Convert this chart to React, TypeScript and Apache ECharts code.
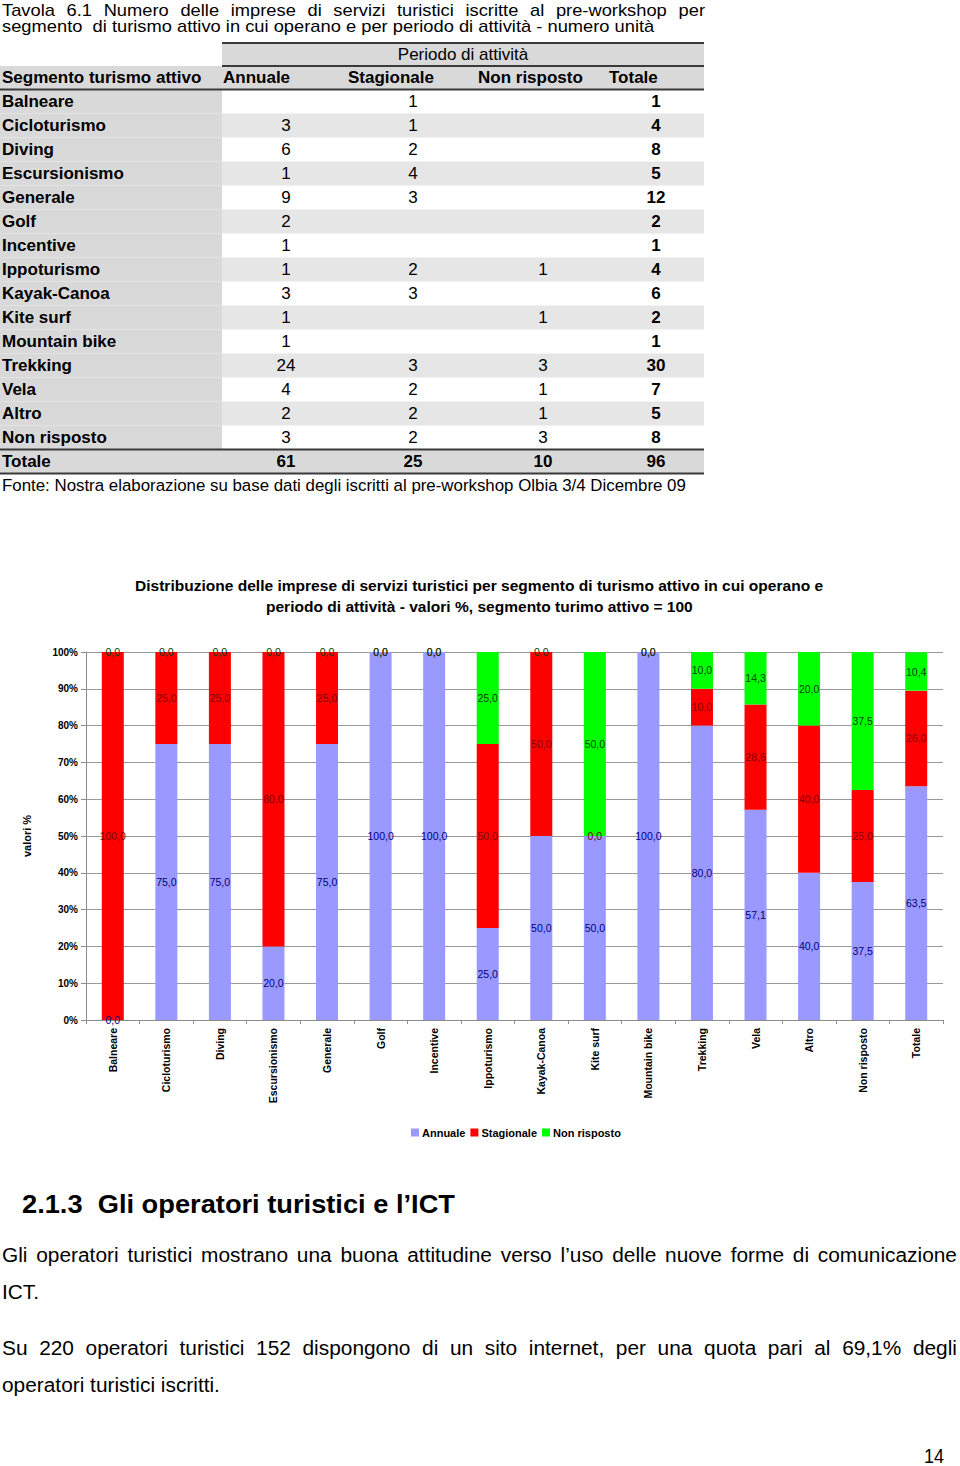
import React, { useEffect, useRef } from "react";
import * as echarts from "echarts";

// ---------- DATA ----------
const SEGMENTS = [
  "Balneare", "Cicloturismo", "Diving", "Escursionismo", "Generale", "Golf", "Incentive",
  "Ippoturismo", "Kayak-Canoa", "Kite surf", "Mountain bike", "Trekking", "Vela", "Altro", "Non risposto",
];
const COUNT_ANNUALE = [null, 3, 6, 1, 9, 2, 1, 1, 3, 1, 1, 24, 4, 2, 3];
const COUNT_STAGIONALE = [1, 1, 2, 4, 3, null, null, 2, 3, null, null, 3, 2, 2, 2];
const COUNT_NON_RISPOSTO = [null, null, null, null, null, null, null, 1, null, 1, null, 3, 1, 1, 3];
const COUNT_TOTALE = [1, 4, 8, 5, 12, 2, 1, 4, 6, 2, 1, 30, 7, 5, 8];
const TOTALS_ROW = ["Totale", 61, 25, 10, 96];
const TABLE_HEADERS = ["Segmento turismo attivo", "Annuale", "Stagionale", "Non risposto", "Totale"];
const TABLE_GROUP_HEADER = "Periodo di attività";

const CATEGORIES = [...SEGMENTS, "Totale"];
const SERIES_NAMES = ["Annuale", "Stagionale", "Non risposto"];
const PCT_ANNUALE = [0, 75, 75, 20, 75, 100, 100, 25, 50, 50, 100, 80, 57.1, 40, 37.5, 63.5];
const PCT_STAGIONALE = [100, 25, 25, 80, 25, 0, 0, 50, 50, 0, 0, 10, 28.6, 40, 25, 26.0];
const PCT_NON_RISPOSTO = [0, 0, 0, 0, 0, 0, 0, 25, 0, 50, 0, 10, 14.3, 20, 37.5, 10.4];

const TITLE_LINE_1 = "Tavola 6.1 Numero delle imprese di servizi turistici iscritte al pre-workshop per";
const TITLE_LINE_2 = "segmento  di turismo attivo in cui operano e per periodo di attività - numero unità";
const SOURCE = "Fonte: Nostra elaborazione su base dati degli iscritti al pre-workshop Olbia 3/4 Dicembre 09";
const CHART_TITLE = [
  "Distribuzione delle imprese di servizi turistici per segmento di turismo attivo in cui operano e",
  "periodo di attività - valori %, segmento turimo attivo = 100",
];
const Y_NAME = "valori %";
const HEADING = "2.1.3  Gli operatori turistici e l’ICT";
const PARA1 = ["Gli operatori turistici mostrano una buona attitudine verso l’uso delle nuove forme di comunicazione", "ICT."];
const PARA2 = ["Su 220 operatori turistici 152 dispongono di un sito internet, per una quota pari al 69,1% degli", "operatori turistici iscritti."];
const PAGE_NUMBER = "14";

// ---------- STYLE ----------
const FONT = '"Liberation Sans", Arial, Helvetica, sans-serif';
const COLORS = ["#9999FF", "#FF0000", "#00FF00"];
const LABEL_COLORS = ["#000080", "#800000", "#004000"];
const GREY_HEAD = "#d9d9d9";
const GREY_ALT = "#e6e6e6";
const LINE_DARK = "#3a3a3a";

let _ctx: CanvasRenderingContext2D | null = null;
function textWidth(t: string, size: number, weight: string) {
  if (!_ctx) _ctx = document.createElement("canvas").getContext("2d");
  _ctx!.font = `${weight} ${size}px ${FONT}`;
  return _ctx!.measureText(t).width;
}

function txt(text: string, x: number, y: number, size: number, weight: string, align = "left", fill = "#000", scaleX = 1) {
  return {
    type: "text",
    x,
    y,
    scaleX,
    silent: true,
    style: {
      text,
      fill,
      fontSize: size,
      fontWeight: weight,
      fontFamily: FONT,
      textAlign: align,
      align,
      textVerticalAlign: "middle",
      verticalAlign: "middle",
    },
  };
}

function fitScale(text: string, w: number, size: number, weight: string) {
  return w / textWidth(text, size, weight);
}

function fitText(text: string, x: number, y: number, w: number, size: number, weight: string, fill = "#000") {
  return txt(text, x, y, size, weight, "left", fill, fitScale(text, w, size, weight));
}

function justify(text: string, x: number, y: number, w: number, size: number, weight: string, s: number) {
  const words = text.split(/\s+/).filter((v) => v.length);
  const ws = words.map((wd) => textWidth(wd, size, weight) * s);
  const total = ws.reduce((a, b) => a + b, 0);
  const gap = (w - total) / (words.length - 1);
  let cx = x;
  return words.map((wd, i) => {
    const el = txt(wd, cx, y, size, weight, "left", "#000", s);
    cx += ws[i] + gap;
    return el;
  });
}

function buildGraphics() {
  const els: any[] = [];
  // page title (justified first line)
  const s2 = fitScale(TITLE_LINE_2, 653, 16, "normal");
  els.push(...justify(TITLE_LINE_1, 2, 10, 703, 16, "normal", s2));
  els.push(txt(TITLE_LINE_2, 2, 26.5, 16, "normal", "left", "#000", s2));

  // table backgrounds
  const rowTop = 89.5;
  const rowH = 24;
  const colX = [2, 223, 348, 478, 609];
  const valX = [286, 413, 543, 656];
  els.push({ type: "rect", silent: true, shape: { x: 222, y: 43, width: 482, height: 23 }, style: { fill: GREY_HEAD } });
  els.push({ type: "rect", silent: true, shape: { x: 0, y: 66, width: 704, height: 23.5 }, style: { fill: GREY_HEAD } });
  SEGMENTS.forEach((_, i) => {
    const y = rowTop + i * rowH;
    els.push({ type: "rect", silent: true, shape: { x: 0, y, width: 222, height: rowH }, style: { fill: GREY_HEAD } });
    if (i % 2 === 1)
      els.push({ type: "rect", silent: true, shape: { x: 222, y, width: 482, height: rowH }, style: { fill: GREY_ALT } });
  });
  const totY = rowTop + SEGMENTS.length * rowH;
  els.push({ type: "rect", silent: true, shape: { x: 0, y: totY, width: 704, height: rowH }, style: { fill: GREY_HEAD } });

  // table lines
  const hline = (x1: number, x2: number, y: number) => ({
    type: "line",
    silent: true,
    shape: { x1, y1: y, x2, y2: y },
    style: { stroke: LINE_DARK, lineWidth: 2 },
  });
  els.push(hline(222, 704, 43), hline(222, 704, 66), hline(0, 704, 89.5), hline(0, 704, totY), hline(0, 704, totY + rowH));

  // table texts
  els.push(txt(TABLE_GROUP_HEADER, 463, 54.5, 17, "normal", "center"));
  TABLE_HEADERS.forEach((h, j) => els.push(txt(h, colX[j], 77.5, 17, "bold")));
  SEGMENTS.forEach((seg, i) => {
    const y = rowTop + i * rowH + rowH / 2;
    els.push(txt(seg, 2, y, 17, "bold"));
    const vals = [COUNT_ANNUALE[i], COUNT_STAGIONALE[i], COUNT_NON_RISPOSTO[i], COUNT_TOTALE[i]];
    vals.forEach((v, j) => {
      if (v !== null && v !== undefined) els.push(txt(String(v), valX[j], y, 17, j === 3 ? "bold" : "normal", "center"));
    });
  });
  const ty = totY + rowH / 2;
  els.push(txt(String(TOTALS_ROW[0]), 2, ty, 17, "bold"));
  TOTALS_ROW.slice(1).forEach((v, j) => els.push(txt(String(v), valX[j], ty, 17, "bold", "center")));
  els.push(fitText(SOURCE, 2, totY + rowH + 12, 684, 17, "normal"));

  // chart title
  els.push(fitText(CHART_TITLE[0], 135, 586, 689, 14, "bold"));
  els.push(fitText(CHART_TITLE[1], 266, 607, 427, 14, "bold"));

  // text below
  els.push(fitText(HEADING, 22, 1204, 433, 26, "bold"));
  const sN = fitScale(PARA2[1], 218, 21, "normal");
  els.push(...justify(PARA1[0], 2, 1254, 955, 21, "normal", sN));
  els.push(txt(PARA1[1], 2, 1291, 21, "normal", "left", "#000", sN));
  els.push(...justify(PARA2[0], 2, 1347, 955, 21, "normal", sN));
  els.push(txt(PARA2[1], 2, 1384, 21, "normal", "left", "#000", sN));
  els.push(fitText(PAGE_NUMBER, 924, 1455, 20, 21, "normal"));
  return els;
}

function fmt(v: number) {
  return v.toFixed(1).replace(".", ",");
}

export default function App() {
  const ref = useRef<HTMLDivElement>(null);
  useEffect(() => {
    document.body.style.margin = "0";
    if (!ref.current) return;
    const chart = echarts.init(ref.current, null, { renderer: "svg" });
    const pcts = [PCT_ANNUALE, PCT_STAGIONALE, PCT_NON_RISPOSTO];
    chart.setOption({
      animation: false,
      backgroundColor: "#ffffff",
      textStyle: { fontFamily: FONT },
      grid: { left: 86, right: 17, top: 652, bottom: 446, containLabel: false },
      legend: {
        data: SERIES_NAMES,
        left: 411,
        top: 1127,
        padding: 0,
        itemWidth: 8,
        itemHeight: 8,
        itemGap: 5,
        icon: "rect",
        textStyle: { fontFamily: FONT, fontWeight: "bold", fontSize: 11, color: "#000", padding: [0, 0, 0, -2] },
      },
      xAxis: {
        type: "category",
        data: CATEGORIES,
        axisLine: { lineStyle: { color: "#8c8c8c", width: 1 } },
        axisTick: { show: true, length: 4, lineStyle: { color: "#8c8c8c" } },
        axisLabel: { rotate: 90, margin: 8, fontFamily: FONT, fontWeight: "bold", fontSize: 10.5, color: "#000", interval: 0 },
      },
      yAxis: {
        type: "value",
        min: 0,
        max: 100,
        interval: 10,
        name: Y_NAME,
        nameLocation: "middle",
        nameRotate: 90,
        nameGap: 54,
        nameTextStyle: { fontFamily: FONT, fontWeight: "bold", fontSize: 11, color: "#000" },
        axisLine: { show: true, lineStyle: { color: "#8c8c8c" } },
        axisTick: { show: true, length: 5, lineStyle: { color: "#8c8c8c" } },
        axisLabel: { formatter: "{value}%", margin: 8, fontFamily: FONT, fontWeight: "bold", fontSize: 10, color: "#000" },
        splitLine: { show: true, lineStyle: { color: "#999999", width: 1 } },
      },
      series: SERIES_NAMES.map((name, k) => ({
        name,
        type: "bar",
        stack: "tot",
        barWidth: 22,
        data: pcts[k],
        itemStyle: { color: COLORS[k] },
        label: {
          show: true,
          position: "inside",
          formatter: (p: any) => fmt(p.value),
          fontFamily: FONT,
          fontSize: 10.5,
          color: LABEL_COLORS[k],
        },
      })),
      graphic: { elements: buildGraphics() },
    });
    return () => chart.dispose();
  }, []);
  return <div ref={ref} style={{ width: 960, height: 1466 }} />;
}
